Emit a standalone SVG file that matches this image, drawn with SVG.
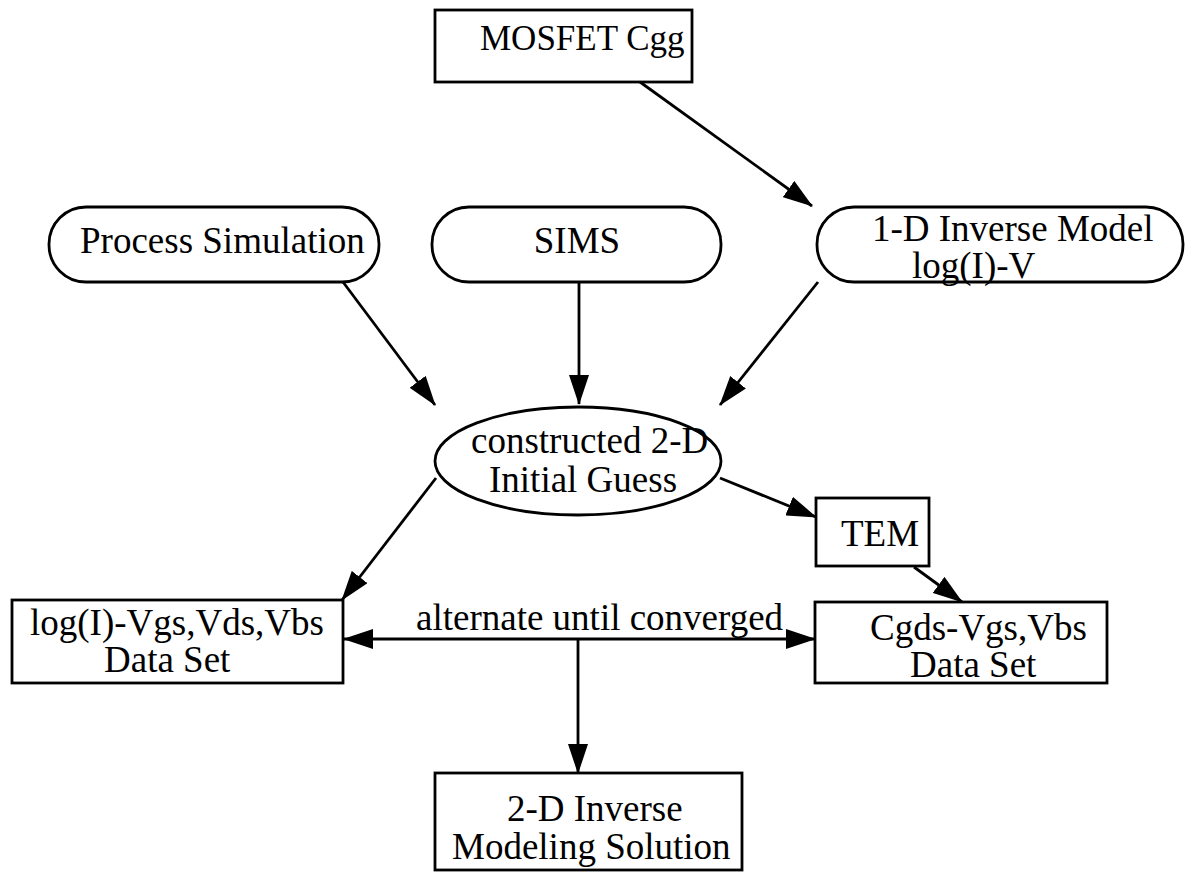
<svg xmlns="http://www.w3.org/2000/svg" width="1185" height="873" viewBox="0 0 1185 873">
<style>
.box{fill:none;stroke:#000;stroke-width:2.8}
.t{font-family:"Liberation Serif","Times New Roman",serif;font-size:37px;fill:#000}
.c{stroke:#000;stroke-width:2.8;fill:none}
</style>
<defs>
<marker id="ah" markerUnits="userSpaceOnUse" markerWidth="30" markerHeight="20" refX="29" refY="10" orient="auto-start-reverse" viewBox="0 0 30 20">
<path d="M0,0 L30,10 L0,20 z" fill="#000"/>
</marker>
</defs>
<rect width="1185" height="873" fill="#fff"/>
<g id="connectors">
<line class="c" x1="640" y1="82" x2="812" y2="206" marker-end="url(#ah)"/>
<line class="c" x1="343" y1="282" x2="435" y2="405" marker-end="url(#ah)"/>
<line class="c" x1="579" y1="282" x2="579" y2="404" marker-end="url(#ah)"/>
<line class="c" x1="818" y1="282" x2="720" y2="405" marker-end="url(#ah)"/>
<line class="c" x1="436" y1="478" x2="342" y2="600" marker-end="url(#ah)"/>
<line class="c" x1="720" y1="478" x2="816" y2="517" marker-end="url(#ah)"/>
<line class="c" x1="914" y1="567" x2="962" y2="602" marker-end="url(#ah)"/>
<line class="c" x1="344" y1="639" x2="815" y2="639" marker-start="url(#ah)" marker-end="url(#ah)"/>
<line class="c" x1="578" y1="639" x2="578" y2="773" marker-end="url(#ah)"/>
<text class="t" x="416" y="630">alternate until converged</text>
</g>
<g id="mosfet">
<rect class="box" x="435" y="10" width="257" height="72"/>
<text class="t" x="480" y="50" style="font-size:35px">MOSFET Cgg</text>
</g>
<g id="process">
<rect class="box" x="49" y="207" width="330" height="75" rx="37" ry="37"/>
<text class="t" x="80" y="253">Process Simulation</text>
</g>
<g id="sims">
<rect class="box" x="432" y="207" width="289" height="75" rx="37" ry="37"/>
<text class="t" x="577" y="253" text-anchor="middle">SIMS</text>
</g>
<g id="inverse1d">
<rect class="box" x="817" y="207" width="366" height="75" rx="37" ry="37"/>
<text class="t" x="872" y="241">1-D Inverse Model</text>
<text class="t" x="912" y="278">log(I)-V</text>
</g>
<g id="guess">
<ellipse class="box" cx="578" cy="461" rx="143" ry="54"/>
<text class="t" x="471" y="453">constructed 2-D</text>
<text class="t" x="489" y="492">Initial Guess</text>
</g>
<g id="tem">
<rect class="box" x="816" y="498" width="113" height="68"/>
<text class="t" x="841" y="546">TEM</text>
</g>
<g id="logdata">
<rect class="box" x="12" y="600" width="331" height="83"/>
<text class="t" x="30" y="635">log(I)-Vgs,Vds,Vbs</text>
<text class="t" x="104" y="672">Data Set</text>
</g>
<g id="cgds">
<rect class="box" x="815" y="602" width="292" height="81"/>
<text class="t" x="870" y="640">Cgds-Vgs,Vbs</text>
<text class="t" x="910" y="677">Data Set</text>
</g>
<g id="solution">
<rect class="box" x="435" y="773" width="307" height="97"/>
<text class="t" x="507" y="821">2-D Inverse</text>
<text class="t" x="452" y="859">Modeling Solution</text>
</g>
</svg>
